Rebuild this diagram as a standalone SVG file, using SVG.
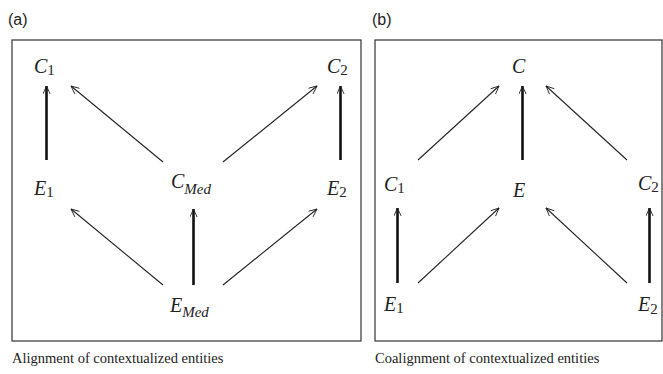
<svg xmlns="http://www.w3.org/2000/svg" width="663" height="374" viewBox="0 0 663 374">
<style>
.box{fill:none;stroke:#333;stroke-width:1.2}
.lbl{font-family:"Liberation Sans",Arial,sans-serif;font-size:16px;fill:#222}
.cap{font-family:"Liberation Serif","Times New Roman",serif;font-size:14.5px;fill:#222}
.m{font-family:"Liberation Serif","Times New Roman",serif;font-size:20px;font-style:italic;fill:#222}
.s{font-size:15px;font-style:normal}
.si{font-size:15px;font-style:italic}
.thin{stroke:#222;stroke-width:1.1;fill:none}
.thick{stroke:#111;stroke-width:2.6;fill:none}
</style>
<defs>
<marker id="ah" viewBox="0 0 10 10" refX="10" refY="5" markerWidth="10" markerHeight="8" markerUnits="userSpaceOnUse" orient="auto">
<path d="M0,0.5 L10,5 L0,9.5" fill="none" stroke="#222" stroke-width="1.1"/>
</marker>
</defs>
<rect x="0" y="0" width="663" height="374" fill="#fff"/>
<text class="lbl" x="8" y="25">(a)</text>
<text class="lbl" x="372" y="25">(b)</text>
<rect class="box" x="12" y="40" width="349" height="301"/>
<rect class="box" x="375" y="40" width="287" height="301"/>
<text class="cap" x="12" y="363">Alignment of contextualized entities</text>
<text class="cap" x="375" y="363">Coalignment of contextualized entities</text>
<g id="connectors">
<line class="thick" x1="46.5" y1="160" x2="46.5" y2="86" marker-end="url(#ah)"/>
<line class="thin" x1="163" y1="162" x2="71" y2="86" marker-end="url(#ah)"/>
<line class="thin" x1="223" y1="162" x2="317" y2="86" marker-end="url(#ah)"/>
<line class="thick" x1="340.5" y1="160" x2="340.5" y2="86" marker-end="url(#ah)"/>
<line class="thin" x1="163" y1="285" x2="71" y2="209" marker-end="url(#ah)"/>
<line class="thick" x1="193.5" y1="285" x2="193.5" y2="209" marker-end="url(#ah)"/>
<line class="thin" x1="223" y1="285" x2="317" y2="209" marker-end="url(#ah)"/>
<line class="thin" x1="418" y1="160" x2="499" y2="86" marker-end="url(#ah)"/>
<line class="thick" x1="522.5" y1="160" x2="522.5" y2="86" marker-end="url(#ah)"/>
<line class="thin" x1="627" y1="160" x2="546" y2="86" marker-end="url(#ah)"/>
<line class="thick" x1="397.5" y1="283" x2="397.5" y2="208" marker-end="url(#ah)"/>
<line class="thin" x1="418" y1="283" x2="499" y2="208" marker-end="url(#ah)"/>
<line class="thin" x1="627" y1="283" x2="546" y2="208" marker-end="url(#ah)"/>
<line class="thick" x1="649.5" y1="283" x2="649.5" y2="208" marker-end="url(#ah)"/>
</g>
<g id="a_C1"><text class="m" x="34" y="73">C<tspan class="s" dy="2">1</tspan></text></g>
<g id="a_C2"><text class="m" x="327" y="73">C<tspan class="s" dy="2">2</tspan></text></g>
<g id="a_E1"><text class="m" x="34" y="195">E<tspan class="s" dy="2">1</tspan></text></g>
<g id="a_CMed"><text class="m" x="171" y="188">C<tspan class="si" dy="6">Med</tspan></text></g>
<g id="a_E2"><text class="m" x="327" y="195">E<tspan class="s" dy="2">2</tspan></text></g>
<g id="a_EMed"><text class="m" x="170" y="312">E<tspan class="si" dy="5">Med</tspan></text></g>
<g id="b_C"><text class="m" x="512" y="73">C</text></g>
<g id="b_C1"><text class="m" x="384" y="191">C<tspan class="s" dy="2">1</tspan></text></g>
<g id="b_E"><text class="m" x="513" y="197">E</text></g>
<g id="b_C2"><text class="m" x="638" y="190">C<tspan class="s" dy="2">2</tspan></text></g>
<g id="b_E1"><text class="m" x="384" y="311">E<tspan class="s" dy="2">1</tspan></text></g>
<g id="b_E2"><text class="m" x="638" y="311">E<tspan class="s" dy="3">2</tspan></text></g>
</svg>
